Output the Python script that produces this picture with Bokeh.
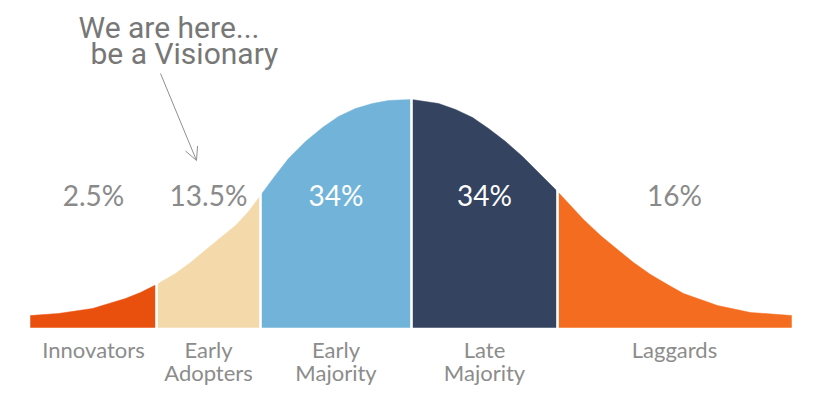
from bokeh.plotting import figure
from bokeh.models import Range1d, Arrow, OpenHead
from bokeh.core.properties import value
from bokeh.embed import file_html
from bokeh.resources import INLINE

# --- data -------------------------------------------------------------
categories = ["Innovators", "Early\nAdopters", "Early\nMajority", "Late\nMajority", "Laggards"]
shares = ["2.5%", "13.5%", "34%", "34%", "16%"]
# segment boundaries along the adoption axis
bounds = [30, 156, 260, 411, 557, 791]
# bell curve (position, height above baseline)
curve_x = [30, 58, 92, 125, 140, 156, 175, 190, 208, 235, 248, 260, 274, 288, 305, 322,
           338, 355, 372, 388, 411, 438, 455, 472, 488, 505, 522, 538, 557, 583, 600,
           617, 633, 650, 667, 683, 700, 717, 750, 791]
curve_h = [12, 14, 19, 29, 35, 43, 54, 65, 80, 102, 116, 132, 151, 169, 186, 200,
           211, 219, 224, 227, 228, 224, 218, 210, 199, 186, 171, 155, 136, 108, 92,
           78, 65, 53, 43, 34, 28, 22, 15, 12]
title_lines = ["We are here...", "be a Visionary"]

# --- styles -----------------------------------------------------------
colors = ["#E9500E", "#F4DAAA", "#72B4D9", "#34435F", "#F46C1F"]
share_colors = ["#8a8a8a", "#8a8a8a", "#ffffff", "#ffffff", "#8a8a8a"]
label_color = "#8c8c8c"

p = figure(width=826, height=398, output_backend="svg", toolbar_location=None,
           x_range=Range1d(0, 826), y_range=Range1d(-71, 327),
           min_border=0, outline_line_color=None,
           x_axis_location=None, y_axis_location=None)
p.grid.visible = False
p.background_fill_color = "white"
p.border_fill_color = "white"

for i in range(5):
    lo, hi = bounds[i], bounds[i + 1]
    xs = [x for x in curve_x if lo <= x <= hi]
    hs = [h for x, h in zip(curve_x, curve_h) if lo <= x <= hi]
    px = [lo] + xs + [hi]
    py = [0] + hs + [0]
    p.patch(px, py, fill_color=colors[i], line_color=colors[i], line_width=0.5)

# white separators between segments
sep_x = bounds[1:-1]
sep_h = [curve_h[curve_x.index(b)] + 4 for b in sep_x]
p.segment(x0=sep_x, y0=[-2] * len(sep_x), x1=sep_x, y1=sep_h, line_color="white", line_width=2.6)

centers = [(bounds[i] + bounds[i + 1]) / 2 for i in range(5)]

# percentage labels
p.text(x=centers, y=[133] * 5, text=shares, text_color=share_colors,
       text_font=value("Lato"), text_font_size="28px",
       text_align="center", text_baseline="alphabetic")

# category labels (one or two lines)
l1 = [c.split("\n")[0] for c in categories]
l2 = [c.split("\n")[1] if "\n" in c else "" for c in categories]
p.text(x=centers, y=[-22] * 5, text=l1, text_color=label_color,
       text_font=value("Lato"), text_font_size="22px",
       text_align="center", text_baseline="alphabetic")
p.text(x=centers, y=[-45] * 5, text=l2, text_color=label_color,
       text_font=value("Lato"), text_font_size="22px",
       text_align="center", text_baseline="alphabetic")

# title annotation
p.text(x=[78, 90], y=[300, 274], text=title_lines, text_color="#777777",
       text_font=value("Roboto"), text_font_size="30px", text_font_style="normal",
       text_align="left", text_baseline="alphabetic")

p.add_layout(Arrow(x_start=160, y_start=254, x_end=196, y_end=167,
                   line_color="#8f8f8f", line_width=1,
                   end=OpenHead(size=13, line_color="#8f8f8f", line_width=1)))

open("out.html", "w").write(file_html(p, INLINE))
